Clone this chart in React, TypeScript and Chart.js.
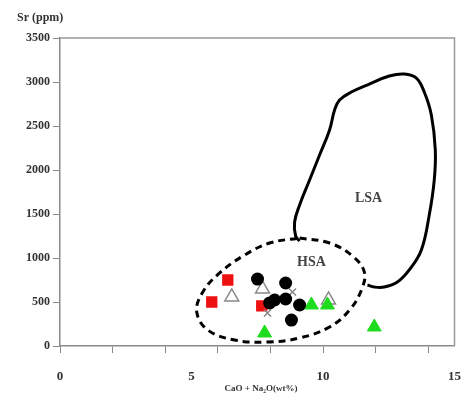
import { useEffect, useRef } from 'react';
import { Chart, registerables } from 'chart.js';

Chart.register(...registerables);

// LSA field outline (solid)
const lsaX = [9.11, 8.96, 8.92, 9.11, 9.49, 9.87, 10.25, 10.44, 10.63, 11.08, 11.76, 12.52, 13.09, 13.55, 13.85, 14.12, 14.27, 14.23, 14.04, 13.74, 13.28, 12.83, 12.33, 11.95, 11.69];
const lsaY = [1193, 1250, 1409, 1602, 1886, 2170, 2455, 2682, 2795, 2886, 2977, 3068, 3091, 3045, 2886, 2625, 2227, 1886, 1489, 1091, 864, 727, 670, 670, 693];

// HSA field outline (dashed, closed)
const hsaX = [9.11, 10.25, 11.12, 11.57, 11.46, 11.01, 10.25, 9.11, 7.89, 6.64, 5.62, 5.2, 5.43, 6.07, 7.02, 7.97, 9.11];
const hsaY = [1227, 1170, 1023, 841, 636, 409, 216, 91, 45, 68, 182, 386, 614, 830, 1034, 1170, 1227];

// Samples
const redX = [6.38, 5.77, 7.67];
const redY = [750, 500, 455];
const openTriX = [6.53, 7.7, 10.21];
const openTriY = [557, 648, 523];
const circleX = [7.51, 8.58, 8.16, 8.58, 9.11, 8.8, 7.97];
const circleY = [761, 716, 523, 534, 466, 295, 489];
const greenX = [7.78, 9.56, 10.17, 11.95];
const greenY = [148, 466, 466, 216];
const crossX = [7.89, 8.84];
const crossY = [375, 614];

// Field labels
const fieldNames = ['HSA', 'LSA'];
const fieldX = [9.56, 11.73];
const fieldY = [955, 1682];

const xLabelValues = [0, 5, 10, 15];
const yTitle = 'Sr (ppm)';
const xTitle = 'CaO + Na\u2082O(wt%)';

const zip = (xs: number[], ys: number[]) => xs.map((x, i) => ({ x, y: ys[i] }));

const FONT = '"Liberation Serif", "Times New Roman", serif';

const decorPlugin = {
  id: 'decor',
  afterDraw(chart: any) {
    const { ctx, chartArea } = chart;
    const { left, top, right, bottom } = chartArea;
    ctx.save();
    ctx.strokeStyle = '#9a9a9a';
    ctx.lineWidth = 1.5;
    ctx.beginPath();
    ctx.moveTo(left, top);
    ctx.lineTo(right, top);
    ctx.lineTo(right, bottom);
    ctx.stroke();

    ctx.fillStyle = '#444';
    ctx.font = `bold 14px ${FONT}`;
    ctx.textAlign = 'center';
    ctx.textBaseline = 'middle';
    const xs = chart.scales.x;
    const ys = chart.scales.y;
    fieldNames.forEach((n, i) => {
      ctx.fillText(n, xs.getPixelForValue(fieldX[i]), ys.getPixelForValue(fieldY[i]));
    });

    ctx.fillStyle = '#333';
    ctx.font = `bold 12px ${FONT}`;
    ctx.textAlign = 'left';
    ctx.fillText(yTitle, 17, 18);

    ctx.font = `bold 9px ${FONT}`;
    ctx.textAlign = 'center';
    ctx.fillText(xTitle, 261, 389);
    ctx.restore();
  },
};

export default function App() {
  const ref = useRef<HTMLCanvasElement | null>(null);
  useEffect(() => {
    if (!ref.current) return;
    const chart = new Chart(ref.current, {
      type: 'scatter',
      data: {
        datasets: [
          {
            label: 'LSA',
            data: zip(lsaX, lsaY),
            showLine: true,
            borderColor: '#000',
            borderWidth: 3,
            pointRadius: 0,
            tension: 0.4,
            order: 10,
          } as any,
          {
            label: 'HSA',
            data: zip(hsaX, hsaY),
            showLine: true,
            borderColor: '#000',
            borderWidth: 3,
            borderDash: [7, 5],
            pointRadius: 0,
            tension: 0.4,
            order: 9,
          } as any,
          {
            label: 'open',
            data: zip(openTriX, openTriY),
            pointStyle: 'triangle',
            pointRadius: 8,
            backgroundColor: '#fff',
            borderColor: '#888',
            borderWidth: 1.5,
            order: 5,
          },
          {
            label: 'green',
            data: zip(greenX, greenY),
            pointStyle: 'triangle',
            pointRadius: 8,
            backgroundColor: '#1fdc1f',
            borderColor: '#1fdc1f',
            borderWidth: 1,
            order: 4,
          },
          {
            label: 'red',
            data: zip(redX, redY),
            pointStyle: 'rect',
            pointRadius: 8,
            backgroundColor: '#ee1111',
            borderColor: '#ee1111',
            borderWidth: 0,
            order: 3,
          },
          {
            label: 'cross',
            data: zip(crossX, crossY),
            pointStyle: 'crossRot',
            pointRadius: 5,
            borderColor: '#888',
            borderWidth: 1.5,
            order: 2,
          },
          {
            label: 'circles',
            data: zip(circleX, circleY),
            pointStyle: 'circle',
            pointRadius: 6.5,
            backgroundColor: '#000',
            borderColor: '#000',
            borderWidth: 0,
            order: 1,
          },
        ],
      },
      options: {
        animation: false,
        responsive: false,
        layout: { padding: { top: 38, right: 9, left: 0, bottom: 0 } },
        plugins: { legend: { display: false }, tooltip: { enabled: false } },
        scales: {
          x: {
            type: 'linear',
            min: 0,
            max: 15,
            afterFit: (s: any) => {
              s.height = 48;
              s.paddingLeft = 0;
              s.paddingRight = 0;
            },
            border: { display: true, color: '#8a8a8a', width: 1.5 },
            grid: {
              drawOnChartArea: false,
              drawTicks: true,
              tickLength: 7,
              tickColor: (c: any) => (c.tick && c.tick.value % 2 === 0 ? '#8a8a8a' : 'rgba(0,0,0,0)'),
            },
            ticks: {
              stepSize: 1,
              autoSkip: false,
              maxRotation: 0,
              padding: 16,
              color: '#333',
              font: { family: FONT, size: 13, weight: 'bold' },
              callback: (v: any) => (xLabelValues.includes(Number(v)) ? String(v) : ''),
            },
          },
          y: {
            type: 'linear',
            min: 0,
            max: 3500,
            afterFit: (s: any) => {
              s.width = 60;
              s.paddingTop = 0;
              s.paddingBottom = 0;
            },
            border: { display: true, color: '#8a8a8a', width: 1.5 },
            grid: {
              drawOnChartArea: false,
              drawTicks: true,
              tickLength: 7,
              tickColor: '#8a8a8a',
            },
            ticks: {
              stepSize: 500,
              padding: 3,
              color: '#333',
              font: { family: FONT, size: 12, weight: 'bold' },
              callback: (v: any) => String(v),
            },
          },
        },
      },
      plugins: [decorPlugin],
    });
    return () => chart.destroy();
  }, []);
  return (
    <div style={{ position: 'fixed', left: 0, top: 0, width: 464, height: 394, background: '#fff' }}>
      <canvas ref={ref} width={464} height={394} />
    </div>
  );
}
